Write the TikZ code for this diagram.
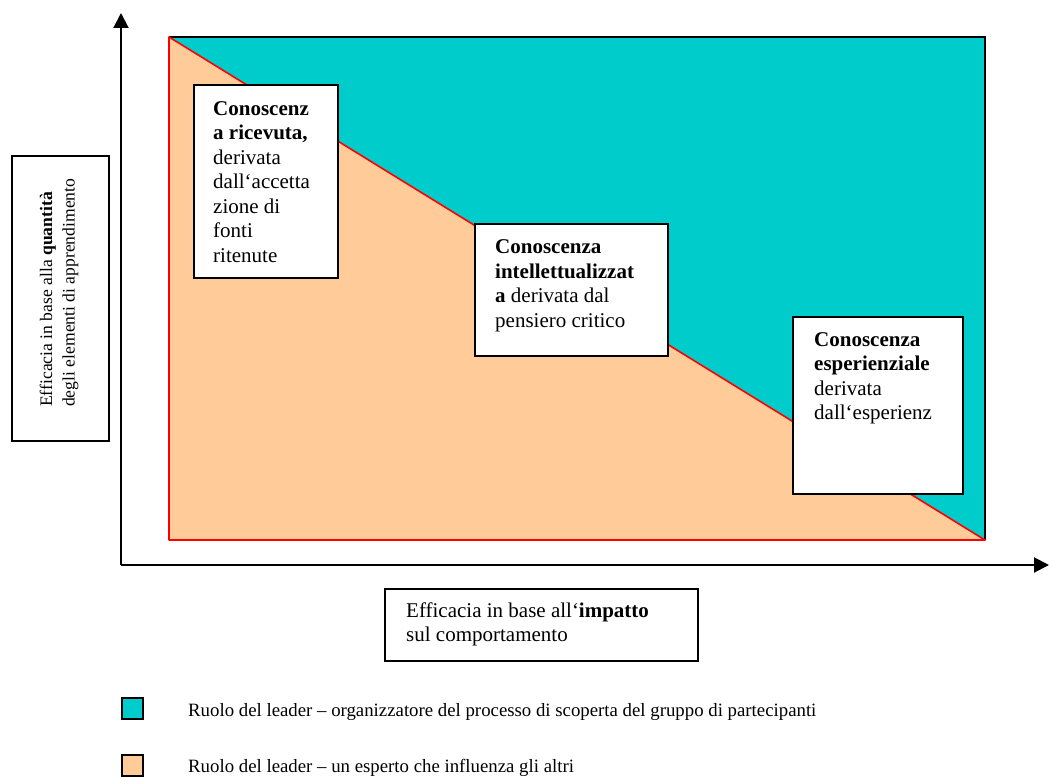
\documentclass[tikz,border=0pt]{standalone}
\usepackage{fontspec}
\setmainfont{Liberation Serif}
\usetikzlibrary{arrows.meta}
\definecolor{tealfill}{RGB}{0,204,204}
\definecolor{peachfill}{RGB}{255,204,153}
\definecolor{redline}{RGB}{255,0,0}
\begin{document}
\begin{tikzpicture}[x=1pt,y=-1pt,
  box/.style={draw=black, line width=1.6pt, fill=white, inner sep=0pt, anchor=north west},
  btxt/.style={font=\fontsize{21}{24.5}\selectfont, align=left, inner sep=0pt, anchor=base west},
  ltxt/.style={font=\fontsize{18.8}{22}\selectfont, inner sep=0pt, anchor=base west},
  vtxt/.style={font=\fontsize{17.6}{22.5}\selectfont, align=left, inner sep=0pt, anchor=base west, rotate=90},
  axis/.style={line width=2pt, -{Triangle[length=15pt,width=15pt]}},
  legsq/.style={draw=black, line width=1.5pt, inner sep=0pt, minimum size=21pt, anchor=north west},
  edge/.style={line width=1.6pt}
]
\useasboundingbox (0,0) rectangle (1049,778);

% main area
\coordinate (tl) at (169,37);
\coordinate (tr) at (985,37);
\coordinate (br) at (985,540);
\coordinate (bl) at (169,540);
\fill[tealfill] (tl) -- (tr) -- (br) -- cycle;
\fill[peachfill] (tl) -- (br) -- (bl) -- cycle;
\draw[edge, black] (tl) -- (tr) -- (br);
\draw[edge, redline, line join=round] (br) -- (bl) -- (tl) -- cycle;

% axes
\coordinate (org) at (121,565);
\coordinate (ytop) at (121,13);
\coordinate (xend) at (1049,565);
\draw[axis] (org) -- (ytop);
\draw[axis] (org) -- (xend);

% knowledge boxes (text anchored at the baseline of its last line)
\node[box, minimum width=144pt, minimum height=193pt] (b1) at (193,84) {};
\node[btxt] (t1) at (213,262) {\textbf{Conoscenz}\\\textbf{a ricevuta,}\\derivata\\dall‘accetta\\zione di\\fonti\\ritenute};

\node[box, minimum width=193pt, minimum height=132pt] (b2) at (474,223) {};
\node[btxt] (t2) at (495,327) {\textbf{Conoscenza}\\\textbf{intellettualizzat}\\\textbf{a} derivata dal\\pensiero critico};

\node[box, minimum width=170pt, minimum height=177pt] (b3) at (792,316) {};
\node[btxt] (t3) at (814,419.5) {\textbf{Conoscenza}\\\textbf{esperienziale}\\derivata\\dall‘esperienz};

% axis label boxes
\node[box, minimum width=97pt, minimum height=285pt] (by) at (11,155) {};
\node[vtxt] (ty) at (74.5,407) {Efficacia in base alla \textbf{quantità}\\degli elementi di apprendimento};

\node[box, minimum width=313pt, minimum height=72pt] (bx) at (384,588) {};
\node[btxt] (tx) at (406,641.5) {Efficacia in base all‘\textbf{impatto}\\sul comportamento};

% legend
\node[legsq, fill=tealfill] (l1) at (121,697) {};
\node[ltxt] (lt1) at (188,716) {Ruolo del leader – organizzatore del processo di scoperta del gruppo di partecipanti};
\node[legsq, fill=peachfill] (l2) at (121,754) {};
\node[ltxt] (lt2) at (188,772) {Ruolo del leader – un esperto che influenza gli altri};
\end{tikzpicture}
\end{document}
